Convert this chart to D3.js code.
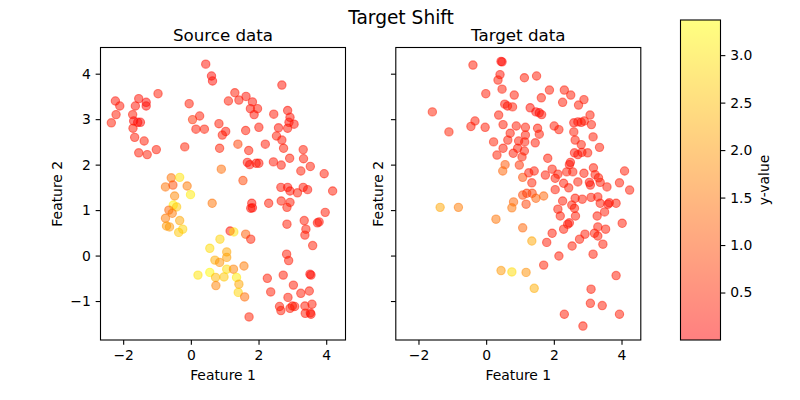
<!DOCTYPE html>
<html><head><meta charset="utf-8">
<script src="https://cdn.jsdelivr.net/npm/d3@7"></script>
<style>
body{margin:0;background:#fff;}
svg{display:block;font-family:"DejaVu Sans",sans-serif;}
</style></head>
<body>
<svg id="chart" width="800" height="400"></svg>
<script>
// ---------- data ----------
const srcX = [0.44,0.61,0.64,2.69,-0.97,-2.23,-2.10,-1.54,-1.32,-1.32,-1.64,-2.21,-2.35,-1.72,-1.69,-1.57,-1.49,-1.71,-1.66,-1.38,-1.54,-1.29,-1.02,-0.05,0.05,0.26,0.15,0.40,-0.18,0.83,1.03,0.93,0.85,1.11,1.30,1.42,1.63,1.82,1.76,1.97,1.87,1.62,2.01,1.39,1.71,2.20,2.45,2.86,2.93,2.90,3.05,2.59,2.86,2.53,2.69,2.74,3.32,2.92,3.33,3.53,3.25,3.94,1.67,1.74,1.93,2.01,2.44,2.67,0.90,1.54,4.19,2.66,2.86,2.93,3.15,3.32,3.45,
-0.58,-0.33,-0.75,-0.53,-0.11,-0.01,-0.48,-0.52,-0.42,-0.65,-0.55,-0.75,-0.33,-0.72,-0.63,-0.24,-0.36,0.63,1.16,1.27,0.86,0.56,1.06,1.06,0.71,0.85,0.21,0.56,0.73,0.98,1.06,1.26,0.74,1.35,1.42,1.40,1.62,1.77,1.57,1.59,1.72,
1.80,1.82,1.77,2.30,2.67,2.93,2.84,3.97,2.84,3.35,3.74,3.79,3.40,3.37,3.60,2.83,2.89,2.26,2.73,3.52,3.55,3.03,2.36,3.50,3.25,2.87,2.62,2.66,2.93,3.00,3.07,3.37,3.58,3.38,3.53,3.55];
const srcY = [4.21,3.95,3.84,3.75,3.56,3.40,3.29,3.45,3.37,3.29,3.29,3.10,2.92,3.10,2.96,2.93,2.93,2.80,2.60,2.52,2.26,2.22,2.33,3.34,2.99,3.07,2.78,2.78,2.39,2.90,2.73,2.65,2.36,3.40,3.58,3.42,3.50,3.38,3.23,3.23,3.10,2.75,2.82,2.45,2.31,2.45,3.11,3.19,3.04,2.93,2.89,2.81,2.80,2.63,2.54,2.36,2.33,2.14,2.13,1.96,1.86,1.80,2.05,2.00,2.03,2.03,2.06,1.99,1.90,1.65,1.42,1.50,1.50,1.42,1.38,1.50,1.45,
1.71,1.72,1.51,1.55,1.53,1.34,1.31,1.11,1.07,1.00,0.93,0.82,0.77,0.65,0.63,0.58,0.51,1.15,0.54,0.52,0.36,0.16,0.08,-0.04,-0.10,-0.15,-0.43,-0.37,-0.48,-0.47,-0.30,-0.30,-0.66,-0.48,-0.63,-0.81,0.47,0.36,-0.23,-0.91,-1.35,
1.15,1.05,1.04,1.15,1.20,1.17,1.06,0.95,0.69,0.77,0.72,0.74,0.58,0.45,0.22,0.03,-0.11,-0.50,-0.43,-0.41,-0.43,-0.65,-0.80,-0.78,-0.83,-0.92,-1.12,-1.21,-1.16,-1.11,-1.12,-1.11,-1.07,-1.27,-1.26,-1.29];
const srcV = [0.2,0.1,0.15,0.2,0.3,0.2,0.25,0.2,0.1,0.15,0.2,0.3,0.35,0.3,0.1,0.05,0.1,0.3,0.3,0.35,0.3,0.35,0.3,0.3,0.6,0.3,0.3,0.35,0.4,0.3,0.2,0.3,0.4,0.3,0.3,0.25,0.2,0.2,0.2,0.25,0.2,0.3,0.25,0.8,0.3,0.3,0.25,0.2,0.2,0.15,0.2,0.2,0.25,0.3,0.25,0.3,0.3,0.3,0.3,0.3,0.35,0.3,0.2,0.15,0.2,0.2,0.25,0.25,1.4,0.9,0.3,0.25,0.2,0.2,0.3,0.25,0.2,
1.5,3.0,1.5,1.0,1.6,3.1,1.8,3.2,2.6,1.3,1.6,1.6,2.2,2.0,2.0,2.8,2.6,1.5,0.2,3.0,2.8,2.9,2.2,2.1,2.3,1.9,3.0,3.3,2.4,2.6,2.9,1.7,1.7,3.1,2.2,2.8,1.2,0.4,1.6,1.4,0.4,
0.2,0.1,0.2,0.3,0.3,0.3,0.3,0.3,0.3,0.3,0.2,0.2,0.3,0.3,0.35,0.3,0.3,0.35,0.3,0.1,0.15,0.3,0.35,0.3,0.3,0.3,0.3,0.3,0.3,0.3,0.3,0.3,0.3,0.3,0.2,0.2];

const tgtX = [-0.39,0.44,0.47,0.41,0.35,1.13,1.49,0.47,-0.01,0.83,1.63,1.87,2.31,2.50,2.89,2.26,2.73,0.55,0.63,0.78,-1.59,1.30,1.47,1.57,1.64,0.37,-0.33,-0.45,-1.10,-0.03,0.50,0.89,1.16,1.52,1.57,2.01,2.15,2.59,2.71,2.81,2.90,3.07,3.11,2.59,0.71,0.96,1.16,1.14,0.64,1.45,0.22,0.50,0.80,0.93,1.13,1.06,0.32,1.82,2.63,2.81,3.16,3.35,2.61,2.71,2.83,3.00,2.49,2.46,
0.98,0.56,0.49,1.08,1.95,2.12,2.38,2.56,3.17,2.89,4.09,1.75,1.26,1.42,1.35,2.04,2.29,2.71,3.05,3.08,3.22,3.32,3.37,3.57,3.94,4.24,2.04,2.44,
1.08,1.20,1.36,1.47,1.70,0.81,0.76,1.18,-1.36,-0.82,0.29,1.08,1.35,0.44,0.76,1.18,1.42,
2.26,2.12,2.19,2.53,2.61,2.64,2.63,2.84,3.10,3.30,3.37,3.60,3.64,3.84,3.28,3.50,4.02,2.41,2.46,2.29,3.30,3.53,3.20,3.30,2.92,2.76,1.95,1.79,2.54,3.45,3.16,2.15,1.70,3.84,3.10,3.08,3.43,2.31,3.94,2.86];
const tgtY = [4.19,4.27,4.26,3.98,3.86,3.91,3.95,3.66,3.56,3.53,3.47,3.64,3.64,3.53,3.43,3.37,3.31,3.33,3.29,3.27,3.16,3.25,3.16,3.14,3.10,3.09,2.96,2.84,2.72,2.82,2.88,2.85,2.82,2.80,2.67,2.85,2.77,2.92,2.94,2.93,2.96,3.09,2.88,2.72,2.69,2.52,2.65,2.50,2.54,2.48,2.50,2.36,2.25,2.36,2.30,2.17,2.21,2.14,2.54,2.44,2.61,2.38,2.26,2.22,2.27,2.26,2.05,2.00,
1.99,2.00,1.86,1.72,1.90,1.79,1.84,1.84,1.93,1.81,1.86,1.77,1.82,1.86,1.60,1.70,1.59,1.62,1.61,1.55,1.78,1.71,1.61,1.51,1.60,1.44,1.45,1.49,
1.33,1.37,1.37,1.26,1.31,1.18,1.05,1.13,1.06,1.06,0.80,0.61,0.32,-0.33,-0.36,-0.37,-0.72,
1.20,1.02,0.87,1.11,1.04,0.87,1.26,1.24,1.28,1.29,1.15,1.13,1.16,1.15,0.87,0.96,0.71,0.69,0.72,0.58,0.63,0.58,0.49,0.43,0.47,0.36,0.49,0.29,0.21,0.25,0.03,-0.01,-0.21,-0.44,-0.74,-1.05,-1.10,-1.29,-1.29,-1.55];
const tgtV = [0.3,0.1,0.1,0.2,0.3,0.3,0.3,0.3,0.3,0.3,0.3,0.3,0.3,0.3,0.3,0.3,0.3,0.2,0.2,0.3,0.4,0.2,0.1,0.1,0.2,0.3,0.3,0.3,0.4,0.3,0.3,0.3,0.3,0.3,0.3,0.3,0.3,0.2,0.2,0.2,0.3,0.3,0.3,0.3,0.3,0.3,0.3,0.3,0.3,0.3,0.4,0.3,0.3,0.3,0.3,0.4,0.4,0.3,0.3,0.3,0.3,0.3,0.2,0.2,0.2,0.3,0.2,0.2,
0.6,1.1,1.3,1.0,0.3,0.3,0.3,0.3,0.3,0.3,0.3,0.3,0.3,0.3,0.4,0.3,0.3,0.3,0.2,0.2,0.3,0.3,0.3,0.3,0.3,0.3,0.3,0.3,
0.9,0.7,0.8,1.2,1.3,1.3,1.5,0.8,2.2,1.6,1.5,1.3,2.2,2.0,2.9,1.9,2.3,
0.3,0.3,0.3,0.3,0.3,0.3,0.3,0.3,0.3,0.3,0.3,0.2,0.2,0.3,0.3,0.3,0.3,0.2,0.2,0.3,0.3,0.3,0.3,0.3,0.3,0.3,0.3,0.3,0.3,0.3,0.3,0.3,0.4,0.3,0.3,0.3,0.3,0.3,0.3,0.3];

const xTicks = [-2, 0, 2, 4];
const yTicks = [-1, 0, 1, 2, 3, 4];
const cbTicks = [0.5, 1.0, 1.5, 2.0, 2.5, 3.0];
const xDomain = [-2.67, 4.57];
const yDomain = [-1.857, 4.576];
const vDomain = [0.0, 3.37];

const suptitle = "Target Shift";
const titles = ["Source data", "Target data"];
const xLabel = "Feature 1", yLabel = "Feature 2", cbLabel = "y-value";

// ---------- drawing ----------
const svg = d3.select("#chart");
const TICK = 4.86, PAD = 4.86, FS = 13.9;
const autumn = t => d3.rgb(255, Math.round(255 * Math.max(0, Math.min(1, t))), 0);
const vScaleN = d3.scaleLinear().domain(vDomain).range([0, 1]);

svg.append("text").attr("x", 401).attr("y", 23.5).attr("text-anchor", "middle")
  .attr("font-size", 18.6).attr("fill", "#000").text(suptitle);

const panels = [
  {left: 100.5, right: 345.5, xs: srcX, ys: srcY, vs: srcV, title: titles[0], ytl: true, ylabX: 57},
  {left: 395.8, right: 640.8, xs: tgtX, ys: tgtY, vs: tgtV, title: titles[1], ytl: false, ylabX: 378}
];
const axTop = 47.5, axBottom = 340;

panels.forEach(p => {
  const x = d3.scaleLinear().domain(xDomain).range([p.left, p.right]);
  const y = d3.scaleLinear().domain(yDomain).range([axBottom, axTop]);
  const g = svg.append("g");
  const data = p.xs.map((d, i) => ({x: d, y: p.ys[i], v: p.vs[i]}));
  g.selectAll("circle").data(data).enter().append("circle")
    .attr("cx", d => x(d.x)).attr("cy", d => y(d.y)).attr("r", 4.17)
    .attr("fill", d => autumn(vScaleN(d.v))).attr("fill-opacity", 0.5)
    .attr("stroke", d => autumn(vScaleN(d.v))).attr("stroke-opacity", 0.5)
    .attr("stroke-width", 1.1);

  g.append("rect").attr("x", p.left).attr("y", axTop).attr("width", p.right - p.left)
    .attr("height", axBottom - axTop).attr("fill", "none").attr("stroke", "#000").attr("stroke-width", 1.1);

  const xa = d3.axisBottom(x).tickValues(xTicks).tickSize(TICK).tickPadding(PAD)
    .tickFormat(d3.format("d"));
  const gx = svg.append("g").attr("transform", `translate(0,${axBottom})`).call(xa);
  gx.select(".domain").remove();
  gx.selectAll("line").attr("stroke", "#000").attr("stroke-width", 1.1);
  gx.selectAll("text").attr("font-size", FS).attr("font-family", "DejaVu Sans").attr("fill", "#000");

  const ya = d3.axisLeft(y).tickValues(yTicks).tickSize(TICK).tickPadding(PAD)
    .tickFormat(p.ytl ? d3.format("d") : () => "");
  const gy = svg.append("g").attr("transform", `translate(${p.left},0)`).call(ya);
  gy.select(".domain").remove();
  gy.selectAll("line").attr("stroke", "#000").attr("stroke-width", 1.1);
  gy.selectAll("text").attr("font-size", FS).attr("font-family", "DejaVu Sans").attr("fill", "#000");

  svg.append("text").attr("x", (p.left + p.right) / 2).attr("y", 40.5).attr("text-anchor", "middle")
    .attr("font-size", 16.7).attr("fill", "#000").text(p.title);
  svg.append("text").attr("x", (p.left + p.right) / 2).attr("y", 380).attr("text-anchor", "middle")
    .attr("font-size", FS).attr("fill", "#000").text(xLabel);
  svg.append("text").attr("transform", `translate(${p.ylabX},${(axTop + axBottom) / 2}) rotate(-90)`)
    .attr("text-anchor", "middle").attr("dy", "0.35em")
    .attr("font-size", FS).attr("fill", "#000").text(yLabel);
});

// ---------- colorbar ----------
const cbL = 680.5, cbR = 720.5, cbT = 20, cbB = 340;
const defs = svg.append("defs");
const grad = defs.append("linearGradient").attr("id", "cbgrad")
  .attr("x1", 0).attr("y1", 1).attr("x2", 0).attr("y2", 0);
d3.range(0, 1.0001, 0.1).forEach(t => {
  grad.append("stop").attr("offset", t).attr("stop-color", autumn(t)).attr("stop-opacity", 0.5);
});
svg.append("rect").attr("x", cbL).attr("y", cbT).attr("width", cbR - cbL).attr("height", cbB - cbT)
  .attr("fill", "#fff");
svg.append("rect").attr("x", cbL).attr("y", cbT).attr("width", cbR - cbL).attr("height", cbB - cbT)
  .attr("fill", "url(#cbgrad)").attr("stroke", "#000").attr("stroke-width", 1.1);
const cbY = d3.scaleLinear().domain(vDomain).range([cbB, cbT]);
const ca = d3.axisRight(cbY).tickValues(cbTicks).tickSize(TICK).tickPadding(PAD).tickFormat(d3.format(".1f"));
const gc = svg.append("g").attr("transform", `translate(${cbR},0)`).call(ca);
gc.select(".domain").remove();
gc.selectAll("line").attr("stroke", "#000").attr("stroke-width", 1.1);
gc.selectAll("text").attr("font-size", FS).attr("font-family", "DejaVu Sans").attr("fill", "#000");
svg.append("text").attr("transform", `translate(764,${(cbT + cbB) / 2}) rotate(-90)`)
  .attr("text-anchor", "middle").attr("dy", "0.35em")
  .attr("font-size", FS).attr("fill", "#000").text(cbLabel);
</script>
</body></html>
